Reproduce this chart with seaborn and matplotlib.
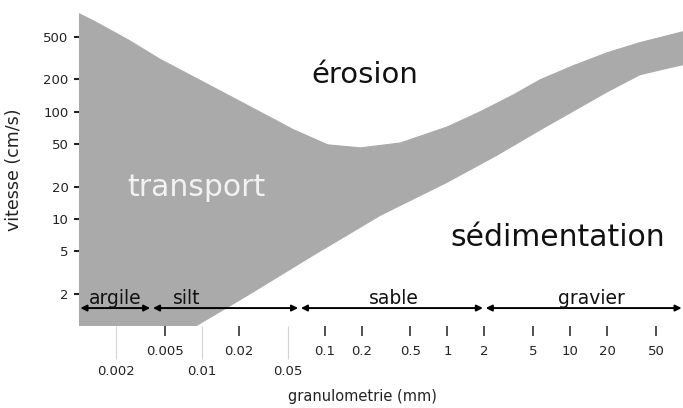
import numpy as np
import pandas as pd

import matplotlib
matplotlib.use("Agg")
import matplotlib.pyplot as plt
import seaborn as sns

# grain size classes (mm)
categories = ["argile", "silt", "sable", "gravier"]
class_bounds = [0.001, 0.0039, 0.0625, 2, 83]

# erosion curve (upper edge of the transport band)
erosion_mm = [0.001, 0.00132, 0.0025, 0.00464, 0.0163, 0.056, 0.106, 0.196,
              0.415, 1.0, 1.85, 3.44, 5.7, 10.6, 20, 37, 83]
erosion_v = [820, 700, 469, 305, 143, 67.6, 49, 45.9,
             51, 72, 99.6, 143, 198, 268, 354, 440, 556]

# sedimentation curve (lower edge of the transport band)
sedim_mm = [0.00893, 0.0237, 0.0814, 0.285, 1.0, 2.55, 5.7, 20, 37, 60, 83]
sedim_v = [1.0, 1.94, 4.6, 10.8, 22, 39.4, 67.6, 153, 221, 252, 274]

x_ticks_top = [0.005, 0.02, 0.1, 0.2, 0.5, 1, 2, 5, 10, 20, 50]
x_labels_top = ["0.005", "0.02", "0.1", "0.2", "0.5", "1", "2", "5", "10", "20", "50"]
x_ticks_low = [0.002, 0.01, 0.05]
x_labels_low = ["0.002", "0.01", "0.05"]
y_ticks = [2, 5, 10, 20, 50, 100, 200, 500]

sns.set_theme(style="white")
plt.rcParams["font.family"] = ["DejaVu Sans"]

fig = plt.figure(figsize=(6.83, 4.08), dpi=100)
ax = fig.add_axes([79 / 683, 82 / 408, 604 / 683, 326 / 408])
ax.set_xscale("log")
ax.set_yscale("log")
ax.set_xlim(0.001, 83)
ax.set_ylim(1.0, 1100)
ax.set_facecolor("white")
fig.patch.set_facecolor("white")

band = "#aaaaaa"
poly_x = erosion_mm + sedim_mm[::-1] + [0.001]
poly_y = erosion_v + sedim_v[::-1] + [1.0]
ax.fill(poly_x, poly_y, color=band, lw=0, zorder=1)

curves = pd.DataFrame({
    "mm": erosion_mm + sedim_mm,
    "v": erosion_v + sedim_v,
    "curve": ["erosion"] * len(erosion_mm) + ["sedimentation"] * len(sedim_mm),
})
sns.lineplot(data=curves, x="mm", y="v", hue="curve", palette=[band, band],
             lw=0.8, legend=False, ax=ax, zorder=2, sort=False)

for s in ax.spines.values():
    s.set_visible(False)

# y axis
ax.set_yticks(y_ticks)
ax.set_yticklabels([str(v) for v in y_ticks])
ax.yaxis.set_minor_locator(matplotlib.ticker.NullLocator())
ax.tick_params(axis="y", which="major", direction="inout", length=7, width=1.5,
               color="#222222", pad=4, labelsize=9.5, labelcolor="#222222", left=True)

# x axis: two rows of labels
ax.set_xticks(x_ticks_top)
ax.set_xticklabels(x_labels_top)
ax.set_xticks(x_ticks_low, minor=True)
ax.set_xticklabels(x_labels_low, minor=True)
ax.tick_params(axis="x", which="major", direction="out", length=7, width=1.2,
               color="#333333", pad=7, labelsize=9.5, labelcolor="#222222", bottom=True)
ax.tick_params(axis="x", which="minor", direction="out", length=24, width=0.8,
               color="#d4d4d4", pad=4, labelsize=9.5, labelcolor="#222222", bottom=True)
ax.set_xlabel("")
ax.set_ylabel("")

fig.text(362 / 683, 1 - 396 / 408, "granulometrie (mm)", ha="center", va="center",
         fontsize=10.5, color="#222222")
fig.text(14 / 683, 1 - 170 / 408, "vitesse (cm/s)", ha="center", va="center",
         rotation=90, fontsize=12.5, color="#222222")

# zone names
ax.text(0.4735, 0.77, "érosion", transform=ax.transAxes, ha="center", va="center",
        fontsize=21, color="#111111")
ax.text(0.195, 0.426, "transport", transform=ax.transAxes, ha="center", va="center",
        fontsize=21.5, color="#f2f2f2", zorder=3)
ax.text(0.793, 0.273, "sédimentation", transform=ax.transAxes, ha="center", va="center",
        fontsize=21.5, color="#111111")

# class arrows
arrow_v = 1.47
label_at = [0.00196, 0.0076, 0.37, 15]
for i, name in enumerate(categories):
    ax.annotate("", xy=(class_bounds[i + 1], arrow_v), xytext=(class_bounds[i], arrow_v),
                arrowprops=dict(arrowstyle="<|-|>", color="black", lw=1.4,
                                mutation_scale=9, shrinkA=1, shrinkB=1),
                annotation_clip=False, zorder=4)
    ax.annotate(name, xy=(label_at[i], arrow_v), xytext=(0, 3), textcoords="offset points",
                ha="center", va="baseline", fontsize=13.5, color="#111111", zorder=4)

fig.savefig("out.png", dpi=100)
